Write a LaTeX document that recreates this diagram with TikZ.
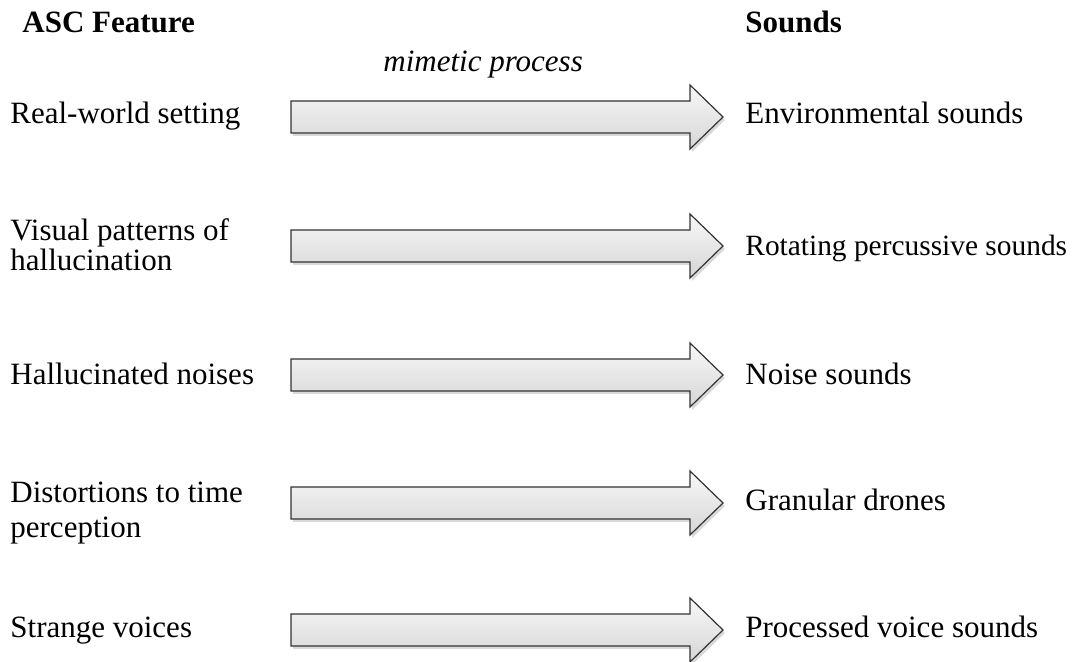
\documentclass[tikz,border=0pt]{standalone}
\usepackage{fontspec}
\setmainfont{Liberation Serif}
\usetikzlibrary{shadows}

\tikzset{
    txt/.style={anchor=base west, inner sep=0pt, align=left,
        font=\fontsize{15.5}{14}\selectfont},
    blockarrow/.style={draw=black!80, line width=0.6pt,
        top color=gray!6, bottom color=gray!32,
        drop shadow={shadow xshift=1pt, shadow yshift=-1.5pt, opacity=0.3}}
}

\begin{document}
\begin{tikzpicture}[x=0.5pt, y=-0.5pt]
            \useasboundingbox  (0, 0) rectangle (1072, 662);
            % headings
            \node[txt, font=\fontsize{15.5}{14}\selectfont\bfseries] (feat) at (22, 33) {ASC Feature};
            \node[txt, font=\fontsize{15.5}{14}\selectfont\bfseries] (snd) at (745, 33) {Sounds};
            \node[txt, font=\fontsize{15.5}{14}\selectfont\itshape] (mim) at (383, 72) {mimetic process};
            % left column
            \node[txt] (real) at (10, 124) {Real-world setting};
            \node[txt] (vis) at (10, 271) {Visual patterns of\\hallucination};
            \node[txt] (hal) at (10, 385) {Hallucinated noises};
            \node[txt, font=\fontsize{15.5}{17.5}\selectfont] (dist) at (10, 538) {Distortions to time\\perception};
            \node[txt] (voi) at (10, 638) {Strange voices};
            % right column
            \node[txt] (env) at (745, 124) {Environmental sounds};
            \node[txt, font=\fontsize{14.7}{14}\selectfont] (rot) at (745, 256) {Rotating percussive sounds};
            \node[txt] (noi) at (745, 385) {Noise sounds};
            \node[txt] (gra) at (745, 511) {Granular drones};
            \node[txt] (pro) at (745, 638) {Processed voice sounds};
            % arrows
            \foreach \y in {117, 246, 375, 503, 630} {
                    \draw[blockarrow] (291, \y-16) -- (690, \y-16) -- (690, \y-32) -- (723, \y)
                        -- (690, \y+32) -- (690, \y+16) -- (291, \y+16) -- cycle;
            }
    \end{tikzpicture}
\end{document}
